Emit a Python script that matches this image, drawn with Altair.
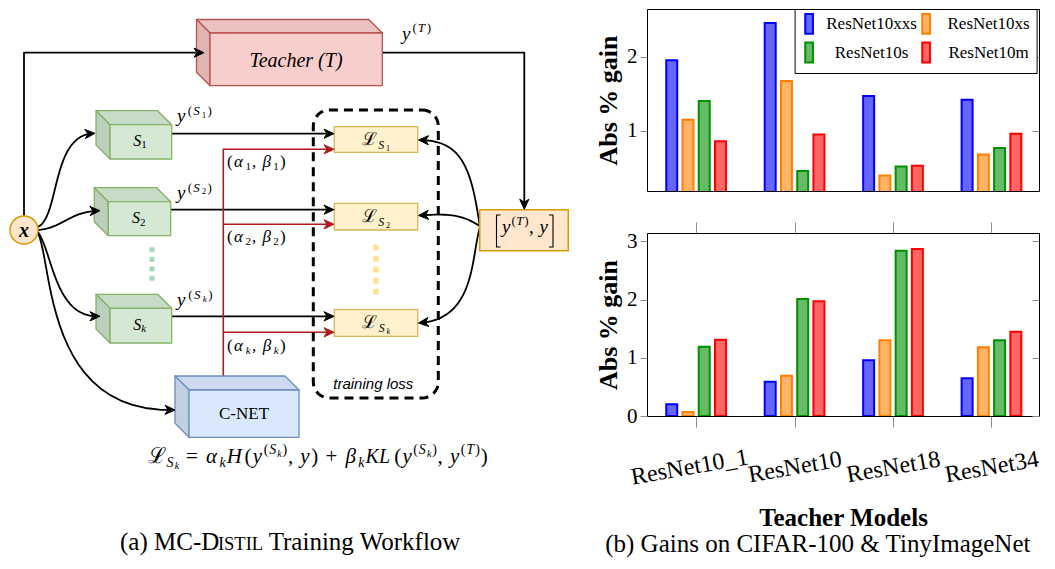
import json
import math
import altair as alt
import pandas as pd

# ------------------------------------------------------------------ bar data
teachers = ["ResNet10_1", "ResNet10", "ResNet18", "ResNet34"]
students = ["ResNet10xxs", "ResNet10xs", "ResNet10s", "ResNet10m"]
fill_colors = ["#6666ff", "#ffb366", "#66bb66", "#ff6666"]
stroke_colors = ["#0000ff", "#ff8000", "#009000", "#ff0000"]

# upper panel (Abs % gain)
top_xxs = [1.95, 2.45, 1.47, 1.42]
top_xs = [1.15, 1.67, 0.40, 0.68]
top_s = [1.40, 0.46, 0.52, 0.77]
top_m = [0.86, 0.95, 0.53, 0.96]

# lower panel (Abs % gain)
bot_xxs = [0.20, 0.59, 0.96, 0.65]
bot_xs = [0.07, 0.69, 1.30, 1.18]
bot_s = [1.19, 2.01, 2.84, 1.30]
bot_m = [1.31, 1.97, 2.87, 1.45]

top_ticks = [1, 2]
bot_ticks = [0, 1, 2, 3]
top_domain = [0.19, 2.64]
bot_domain = [0, 3.145]
x_domain = [-0.448, 3.432]
bar_step = 0.165

caption_b = "(b) Gains on CIFAR-100 & TinyImageNet"

# ------------------------------------------------------------------ diagram data
# 3D boxes: front-left x, front-top y, front-right x, front-bottom y, depth, kind
boxes3d = [
    (205.0, 29.0, 377.3, 81.7, 13.5, "teacher"),
    (105.0, 120.7, 166.7, 155.0, 14.0, "student"),
    (103.3, 197.7, 165.7, 231.7, 14.0, "student"),
    (105.0, 304.3, 166.7, 339.0, 14.0, "student"),
    (184.0, 386.0, 294.0, 433.3, 14.0, "cnet"),
]
box_styles = {
    "teacher": ("#f8cecc", "#ebc2c0", "#dfb5b4", "#b85450"),
    "student": ("#d5e8d4", "#c7dbc6", "#bccfbb", "#82b366"),
    "cnet": ("#dae8fc", "#ccdaef", "#c1cfe3", "#6c8ebf"),
}
loss_boxes = [(329.3, 122.7, 412.7, 148.3), (329.3, 199.3, 412.7, 226.0), (329.3, 305.7, 412.7, 332.3)]
target_box = (474.7, 205.7, 563.3, 246.7)
x_node = (19.0, 226.0, 14.0)
loss_frame = (308.3, 106.0, 433.3, 394.0, 16.0)
green_dots = [(147.0, 245.7), (147.0, 255.3), (147.0, 265.0), (147.0, 274.3)]
yellow_dots = [(370.8, 243.5), (370.8, 254.8), (370.8, 265.8), (370.8, 276.8), (370.8, 287.5)]

black_arrows = [
    [(19.0, 211.7), (19.0, 48.7), (199.0, 48.7)],
    [(377.3, 48.7), (519.3, 48.7), (519.3, 205.2)],
    [(166.7, 129.7), (329.0, 129.7)],
    [(165.7, 205.7), (329.0, 205.7)],
    [(166.7, 312.3), (329.0, 312.3)],
]
red_arrows = [
    [(218.3, 145.3), (329.0, 145.3)],
    [(218.3, 220.3), (329.0, 220.3)],
    [(218.3, 328.3), (329.0, 328.3)],
]
red_stem = [(218.3, 376.7), (218.3, 144.7)]
curves = [
    [(33, 223), (55, 212), (46, 129), (90, 129.3)],
    [(33, 226), (58, 224), (65, 207), (95, 206.7)],
    [(33, 228), (48, 250), (50, 315), (95, 312.3)],
    [(33, 229), (48, 262), (40, 410), (170, 406)],
    [(474.7, 222), (466, 160), (455, 136), (413.5, 136)],
    [(474.7, 222), (458, 212), (450, 209), (413.5, 211.5)],
    [(474.7, 224), (466, 255), (470, 316), (413.5, 319)],
]
brackets = [
    [(495.5, 211.0), (491.5, 211.0), (491.5, 243.0), (495.5, 243.0)],
    [(544.0, 211.0), (548.0, 211.0), (548.0, 243.0), (544.0, 243.0)],
]

# ------------------------------------------------------------------ helpers
def feat(geom_type, coords, fill, stroke, sw):
    return {"type": "Feature",
            "geometry": {"type": geom_type, "coordinates": coords},
            "properties": {"fill": fill, "stroke": stroke, "sw": sw}}


def poly(pts, fill, stroke, sw):
    ring = [list(p) for p in pts] + [list(pts[0])]
    return feat("Polygon", [ring], fill, stroke, sw)


def line(pts, stroke, sw):
    return feat("LineString", [list(p) for p in pts], "transparent", stroke, sw)


def bezier(p):
    out = []
    for i in range(25):
        t = i / 24
        a, b, c, d = (1 - t) ** 3, 3 * (1 - t) ** 2 * t, 3 * (1 - t) * t ** 2, t ** 3
        out.append((a * p[0][0] + b * p[1][0] + c * p[2][0] + d * p[3][0],
                    a * p[0][1] + b * p[1][1] + c * p[2][1] + d * p[3][1]))
    return out


def head(tip, frm, color, L=10.0, W=4.6):
    dx, dy = tip[0] - frm[0], tip[1] - frm[1]
    n = math.hypot(dx, dy)
    ux, uy = dx / n, dy / n
    px, py = -uy, ux
    bx, by = tip[0] - ux * L, tip[1] - uy * L
    nx, ny = tip[0] - ux * L * 0.7, tip[1] - uy * L * 0.7
    return poly([tip, (bx + px * W, by + py * W), (nx, ny), (bx - px * W, by - py * W)], color, color, 1)


def arrow(pts, color, sw, shapes, lines):
    tip, prev = pts[-1], pts[-2]
    dx, dy = tip[0] - prev[0], tip[1] - prev[1]
    n = math.hypot(dx, dy)
    trimmed = pts[:-1] + [(tip[0] - dx / n * 6, tip[1] - dy / n * 6)]
    lines.append(line(trimmed, color, sw))
    shapes.append(head(tip, prev, color))


shapes, lines, dashed, heads, overlay = [], [], [], [], []
for x0, y0, x1, y1, d, kind in boxes3d:
    front, top, side, st = box_styles[kind]
    shapes.append(poly([(x0 - d, y0 - d), (x1 - d, y0 - d), (x1, y0), (x0, y0)], top, st, 1.3))
    shapes.append(poly([(x0 - d, y0 - d), (x0, y0), (x0, y1), (x0 - d, y1 - d)], side, st, 1.3))
    shapes.append(poly([(x0, y0), (x1, y0), (x1, y1), (x0, y1)], front, st, 1.3))
for x0, y0, x1, y1 in loss_boxes:
    shapes.append(poly([(x0, y0), (x1, y0), (x1, y1), (x0, y1)], "#fff2cc", "#d6b656", 1.3))
tx0, ty0, tx1, ty1 = target_box
shapes.append(poly([(tx0, ty0), (tx1, ty0), (tx1, ty1), (tx0, ty1)], "#ffe6cc", "#d79b00", 1.5))
cx, cy, r = x_node
shapes.append(poly([(cx + r * math.cos(2 * math.pi * i / 48), cy + r * math.sin(2 * math.pi * i / 48))
                    for i in range(48)], "#ffe6cc", "#d79b00", 1.5))
for gx, gy in green_dots:
    shapes.append(poly([(gx - 2.2, gy - 2.2), (gx + 2.2, gy - 2.2), (gx + 2.2, gy + 2.2), (gx - 2.2, gy + 2.2)],
                       "#a6d8b9", "#a6d8b9", 0.5))
for gx, gy in yellow_dots:
    shapes.append(poly([(gx - 2.5, gy - 2.5), (gx + 2.5, gy - 2.5), (gx + 2.5, gy + 2.5), (gx - 2.5, gy + 2.5)],
                       "#ffe08c", "#ffe08c", 0.5))

for pts in black_arrows:
    arrow(pts, "black", 1.8, heads, lines)
lines.append(line(red_stem, "#b31b1b", 1.6))
for pts in red_arrows:
    arrow(pts, "#b31b1b", 1.6, heads, lines)
for c in curves:
    arrow(bezier(c), "black", 1.8, heads, lines)
for b in brackets:
    overlay.append(line(b, "black", 1.1))

fx0, fy0, fx1, fy1, fr = loss_frame
ring = []
for (ccx, ccy, a0) in [(fx1 - fr, fy0 + fr, -90), (fx1 - fr, fy1 - fr, 0), (fx0 + fr, fy1 - fr, 90), (fx0 + fr, fy0 + fr, 180)]:
    for k in range(9):
        a = math.radians(a0 + 90 * k / 8)
        ring.append((ccx + fr * math.cos(a), ccy + fr * math.sin(a)))
ring.append(ring[0])
dashed.append(line(ring, "black", 3))

# ---- text runs (Times metrics, em)
W_IT = {"y": .444, "S": .5, "k": .444, "T": .556, "H": .722, "K": .667, "L": .556, "α": .55, "β": .52}
W_RM = {"(": .333, ")": .333, ",": .25, " ": .25, "=": .564, "+": .564, "ℒ": .72, "1": .5, "2": .5,
        "a": .444, "M": .889, "C": .667, "-": .333, "D": .722, "I": .333, "S": .556, "T": .611,
        "L": .611, "r": .333, "i": .278, "n": .5, "g": .5, "W": .944, "o": .5, "k": .5, "f": .333,
        "l": .278, "w": .722}


def run(x0, base, items, x1=None):
    widths = []
    for t, sz, st, dy in items:
        table = W_IT if st == "mi" else W_RM
        widths.append(sum(table.get(ch, .5) for ch in t) * sz)
    k = (x1 - x0) / sum(widths) if x1 else 1.0
    out, x = [], x0
    for (t, sz, st, dy), w in zip(items, widths):
        lead = len(t) - len(t.lstrip(" "))
        out.append({"x": x + lead * 0.25 * sz * k, "y": base + dy, "t": t.strip(" "), "size": sz, "style": st})
        x += w * k
    return out


texts = []


def y_sup(x0, base, sub, x1):
    return run(x0, base, [("y", 19, "mi", 0), ("(", 13, "mn", -7), ("S", 13, "mi", -7),
                          (sub, 9, "mi" if sub == "k" else "mn", -4.5), (")", 13, "mn", -7)], x1)


texts += run(397, 36, [("y", 19, "mi", 0), ("(", 13, "mn", -8), ("T", 13, "mi", -8), (")", 13, "mn", -8)], 427)
texts += y_sup(172, 118, "1", 208)
texts += y_sup(172, 194.5, "2", 208)
texts += y_sup(172, 302, "k", 209)
texts += run(128.3, 141.7, [("S", 16, "mi", 0), ("1", 11, "mn", 2.5)])
texts += run(127.0, 219.0, [("S", 16, "mi", 0), ("2", 11, "mn", 2.5)])
texts += run(128.3, 325.7, [("S", 16, "mi", 0), ("k", 11, "mi", 2.5)])
for base, sub in [(141, "1"), (218, "2"), (324, "k")]:
    texts += run(357, base, [("ℒ", 18, "mn", 0), ("S", 12, "mi", 4), (sub, 8, "mi" if sub == "k" else "mn", 6)], 386)
for base, sub in [(163, "1"), (238, "2"), (346.5, "k")]:
    st = "mi" if sub == "k" else "mn"
    texts += run(222, base, [("(", 17, "mn", 0), ("α", 17, "mi", 0), (sub, 11, st, 3), (", ", 17, "mn", 0),
                             ("β", 17, "mi", 0), (sub, 11, st, 3), (")", 17, "mn", 0)], 282)
texts += run(497, 229, [("y", 19, "mi", 0), ("(", 13, "mn", -8), ("T", 13, "mi", -8), (")", 13, "mn", -8),
                        (", ", 19, "mn", 0), ("y", 19, "mi", 0)], 544)
sup = -9
texts += run(143, 459, [("ℒ", 22, "mn", 0), ("S", 14, "mi", 4), ("k", 10, "mi", 6), (" = ", 21, "mn", 0),
                        ("α", 21, "mi", 0), ("k", 14, "mi", 4), ("H", 21, "mi", 0), ("(", 21, "mn", 0),
                        ("y", 21, "mi", 0), ("(", 14, "mn", sup), ("S", 14, "mi", sup), ("k", 10, "mi", -6),
                        (")", 14, "mn", sup), (", ", 21, "mn", 0), ("y", 21, "mi", 0), (")", 21, "mn", 0),
                        (" + ", 21, "mn", 0), ("β", 21, "mi", 0), ("k", 14, "mi", 4), ("KL", 20, "mi", 0),
                        ("(", 21, "mn", 0), ("y", 21, "mi", 0), ("(", 14, "mn", sup), ("S", 14, "mi", sup),
                        ("k", 10, "mi", -6), (")", 14, "mn", sup), (", ", 21, "mn", 0), ("y", 21, "mi", 0),
                        ("(", 14, "mn", sup), ("T", 14, "mi", sup), (")", 14, "mn", sup), (")", 21, "mn", 0)], 484)
texts += run(115, 546, [("(a) MC-D", 25, "mn", 0), ("ISTIL", 18.5, "mn", 0), (" Training Workflow", 25, "mn", 0)], 456)
texts += [
    {"x": 291, "y": 57, "t": "Teacher (T)", "size": 20, "style": "ci"},
    {"x": 239, "y": 410, "t": "C-NET", "size": 17, "style": "cn"},
    {"x": 368.3, "y": 379.5, "t": "training loss", "size": 15, "style": "sans"},
    {"x": 19, "y": 226.5, "t": "x", "size": 20, "style": "xb"},
]
text_df = pd.DataFrame(texts)

SERIF = "Liberation Serif"
text_styles = {
    "mi": dict(font=SERIF, fontStyle="italic", align="left", baseline="alphabetic"),
    "mn": dict(font=SERIF, align="left", baseline="alphabetic"),
    "ci": dict(font=SERIF, fontStyle="italic", align="center", baseline="middle"),
    "cn": dict(font=SERIF, align="center", baseline="middle"),
    "sans": dict(font="Liberation Sans", fontStyle="italic", align="center", baseline="middle"),
    "xb": dict(font=SERIF, fontStyle="italic", fontWeight="bold", align="center", baseline="middle"),
}


def geo_layer(features, dash=None):
    mk = dict(strokeJoin="round", strokeCap="butt")
    if dash:
        mk["strokeDash"] = dash
    return alt.Chart(alt.Data(values=features)).mark_geoshape(**mk).encode(
        fill=alt.Fill("properties.fill:N", scale=None),
        stroke=alt.Stroke("properties.stroke:N", scale=None),
        strokeWidth=alt.StrokeWidth("properties.sw:Q", scale=None),
    )


diagram_layers = [geo_layer(lines), geo_layer(dashed, [9, 6]), geo_layer(shapes), geo_layer(heads),
                  geo_layer(overlay)]
for key, props in text_styles.items():
    diagram_layers.append(
        alt.Chart(text_df).transform_filter(alt.datum.style == key).mark_text(color="black", **props).encode(
            longitude="x:Q", latitude="y:Q", text="t:N", size=alt.Size("size:Q", scale=None))
    )
diagram = alt.layer(*diagram_layers).project(type="identity", scale=1, translate=[-4, -5]).properties(
    width=575, height=552, view=alt.ViewBackground(stroke="transparent"))

# ------------------------------------------------------------------ bar panels
def table(series):
    rows = []
    for si, (name, vals) in enumerate(zip(students, series)):
        for ti, v in enumerate(vals):
            rows.append({"teacher": teachers[ti], "student": name, "gain": v,
                         "pos": ti + (si - 1.5) * bar_step})
    return pd.DataFrame(rows)


top_df = table([top_xxs, top_xs, top_s, top_m])
bot_df = table([bot_xxs, bot_xs, bot_s, bot_m])

TICK = "#8c8c8c"
label_expr = "%s[datum.value]" % json.dumps(teachers)


def y_left(ticks):
    return alt.Axis(values=ticks, tickSize=7, tickColor=TICK, domain=False, grid=False, labelFontSize=21,
                    labelPadding=3, labelColor="black", title="Abs % gain", titleFontSize=26,
                    titleFontWeight="bold", titleColor="black", titlePadding=5, format="d")


def y_right(ticks):
    return alt.Axis(orient="right", values=ticks, tickSize=7, offset=-7, tickColor=TICK, domain=False,
                    grid=False, labels=False, title=None)


x_bottom = alt.Axis(orient="bottom", values=[0, 1, 2, 3], labelExpr=label_expr, tickSize=11, tickColor=TICK,
                    domain=False, grid=False, labelAngle=-10, labelAlign="center", labelBaseline="middle",
                    labelFontSize=24, labelPadding=40, labelColor="black", labelOverlap=False,
                    labelOffset={"expr": "datum.value == 0 ? -7 : 0"},
                    labelFlush=False, title="Teacher Models", titleFontSize=25, titleFontWeight="bold",
                    titleColor="black", titlePadding=16)
x_top = alt.Axis(orient="top", values=[0, 1, 2, 3], tickSize=11, tickColor=TICK, domain=False, grid=False,
                 labels=False, title=None)

legend = alt.Legend(orient="none", legendX=147.6, legendY=0, columns=2, direction="horizontal", title=None,
                    symbolType="M-0.7,-1.8V1.8H0.7V-1.8Z", symbolSize=121, symbolStrokeWidth=2, symbolOpacity=1,
                    labelFontSize=17, labelFont=SERIF, labelColor="black", labelAlign="center",
                    labelOffset=54, columnPadding=0, rowPadding=0, padding=6,
                    strokeColor="black", fillColor="white", gridAlign="each")


def panel(df, ydom, ticks, h, leg, xb, xt):
    xs = alt.Scale(domain=x_domain, nice=False, zero=False)
    ys = alt.Scale(domain=ydom, nice=False, zero=False)
    bars = alt.Chart(df).mark_bar(size=11, strokeWidth=2, clip=True).encode(
        x=alt.X("pos:Q", scale=xs, axis=xb),
        y=alt.Y("gain:Q", scale=ys, axis=y_left(ticks)),
        fill=alt.Fill("student:N", scale=alt.Scale(domain=students, range=fill_colors), legend=leg, sort=students),
        stroke=alt.Stroke("student:N", scale=alt.Scale(domain=students, range=stroke_colors), legend=leg,
                          sort=students),
    )
    ghost = alt.Chart(df).mark_point(opacity=0, clip=True).encode(
        x=alt.X("pos:Q", scale=xs, axis=xt),
        y=alt.Y("gain:Q", scale=ys, axis=y_right(ticks)),
    )
    return alt.layer(bars, ghost).resolve_axis(x="independent", y="independent").properties(
        width=392, height=h, view=alt.ViewBackground(stroke="black", strokeWidth=1))


top = panel(top_df, top_domain, top_ticks, 182, legend, None, None)
bottom = panel(bot_df, bot_domain, bot_ticks, 183, None, x_bottom, x_top)

right = alt.vconcat(top, bottom, spacing=29).resolve_scale(fill="independent", stroke="independent").properties(
    title=alt.TitleParams(caption_b, orient="bottom", anchor="middle", frame="bounds", fontSize=25, font=SERIF,
                          fontWeight="normal", color="black", offset=1))

chart = alt.hconcat(diagram, right, spacing=10).properties(padding=0, background="white").configure_axis(
    labelFont=SERIF, titleFont=SERIF).configure_legend(labelFont=SERIF).configure_title(font=SERIF)

chart.save("out.html", embed_options={"renderer": "svg", "actions": False})
